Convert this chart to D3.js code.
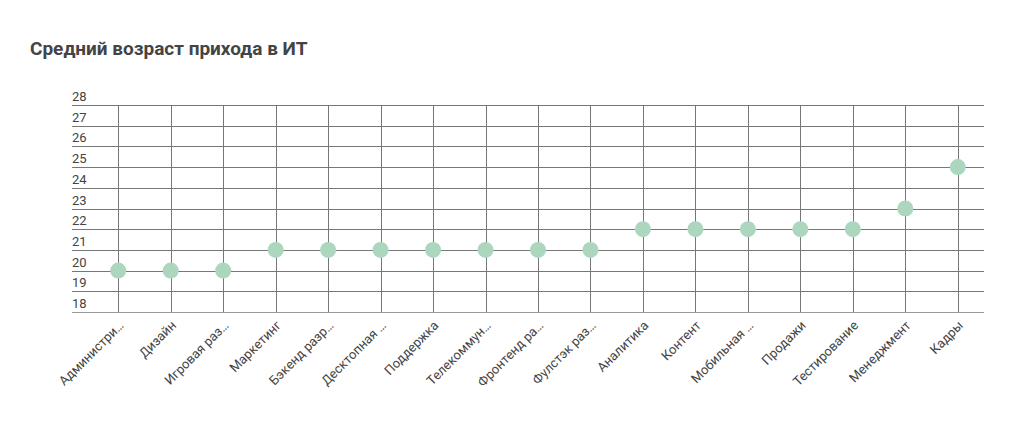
<!DOCTYPE html>
<html><head><meta charset="utf-8">
<script src="https://cdn.jsdelivr.net/npm/d3@7"></script>
<style>
body{margin:0;background:#fff;}
text{font-family:Roboto,"Noto Sans",sans-serif;}
</style></head>
<body><svg id="c" width="1024" height="421"></svg>
<script>
const categories = ["Администри…","Дизайн","Игровая раз…","Маркетинг","Бэкенд разр…","Десктопная …","Поддержка","Телекоммун…","Фронтенд ра…","Фулстэк раз…","Аналитика","Контент","Мобильная …","Продажи","Тестирование","Менеджмент","Кадры"];
const values = [20,20,20,21,21,21,21,21,21,21,22,22,22,22,22,23,25];
const yTicks = [18,19,20,21,22,23,24,25,26,27,28];
const title = "Средний возраст прихода в ИТ";

(function(){
const svg = d3.select("#c");
const gLeft = 72, plotLeft = 92, gRight = 984, gTop = 105, gBottom = 312;
const x = d3.scaleBand().domain(categories).range([plotLeft, gRight]);
const y = d3.scaleLinear().domain([18, 28]).range([gBottom, gTop]);

svg.append("text").attr("x", 30).attr("y", 55).text(title)
  .attr("font-size", 19).attr("font-weight", 700).attr("fill", "#444");

const yg = svg.append("g");
yTicks.forEach(t => {
  const yy = Math.round(y(t)) + 0.5;
  yg.append("line").attr("x1", gLeft).attr("x2", gRight).attr("y1", yy).attr("y2", yy)
    .attr("stroke", t===18 ? "#999" : "#777").attr("stroke-width", 1);
  yg.append("text").attr("x", gLeft).attr("y", y(t) - 4).text(t)
    .attr("font-size", 13).attr("fill", "#444");
});
categories.forEach(c => {
  const cx = Math.round(x(c) + x.bandwidth()/2) + 0.5;
  svg.append("line").attr("x1", cx).attr("x2", cx).attr("y1", gTop).attr("y2", gBottom)
    .attr("stroke", "#777").attr("stroke-width", 1);
});
categories.forEach(c => {
  const cx = x(c) + x.bandwidth()/2;
  svg.append("text").attr("transform", `translate(${cx+3},${323}) rotate(-45)`)
    .attr("text-anchor", "end").attr("dy", "0.35em").text(c)
    .attr("font-size", 13).attr("fill", "#444");
});
svg.append("g").selectAll("circle").data(values).join("circle")
  .attr("cx", (d,i) => x(categories[i]) + x.bandwidth()/2)
  .attr("cy", d => y(d)).attr("r", 8)
  .attr("fill", "#acd7be");
})();
</script></body></html>
